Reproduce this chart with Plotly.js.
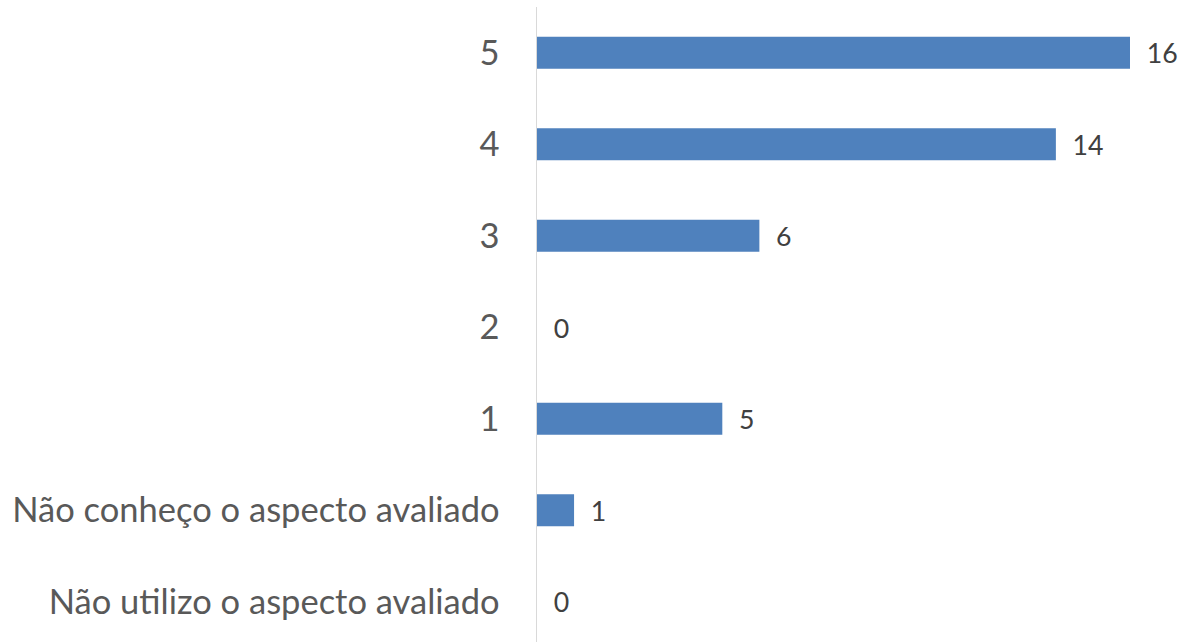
<!DOCTYPE html>
<html>
<head>
<meta charset="utf-8">
<script src="https://cdn.plot.ly/plotly-3.0.1.min.js"></script>
<style>html,body{margin:0;padding:0;background:#fff;}#chart{width:1184px;height:642px;}</style>
</head>
<body>
<div id="chart"></div>
<script>
const categories = ["Não utilizo o aspecto avaliado", "Não conheço o aspecto avaliado", "1", "2", "3", "4", "5"];
const counts = [0, 1, 5, 0, 6, 14, 16];

const trace = {
  type: 'bar',
  orientation: 'h',
  y: categories,
  x: counts,
  marker: {color: '#4F81BD'},
  width: 0.35,
  text: counts.map(String),
  texttemplate: '  %{x}',
  textposition: 'outside',
  cliponaxis: false,
  textfont: {family: 'Lato, sans-serif', size: 30, color: '#404040'},
  hoverinfo: 'none'
};

const layout = {
  width: 1184, height: 642,
  margin: {l: 537, r: 54, t: 7, b: 0, pad: 0},
  paper_bgcolor: '#ffffff',
  plot_bgcolor: '#ffffff',
  showlegend: false,
  xaxis: {range: [0, 16], visible: false, fixedrange: true},
  yaxis: {
    type: 'category',
    range: [-0.44, 6.5],
    showgrid: false,
    zeroline: false,
    showline: true,
    linecolor: '#d9d9d9',
    linewidth: 1.5,
    ticks: '',
    ticklabelstandoff: 29,
    tickfont: {family: 'Lato, sans-serif', size: 34.5, color: '#595959'}
  }
};

Plotly.newPlot('chart', [trace], layout, {staticPlot: true});
</script>
</body>
</html>
